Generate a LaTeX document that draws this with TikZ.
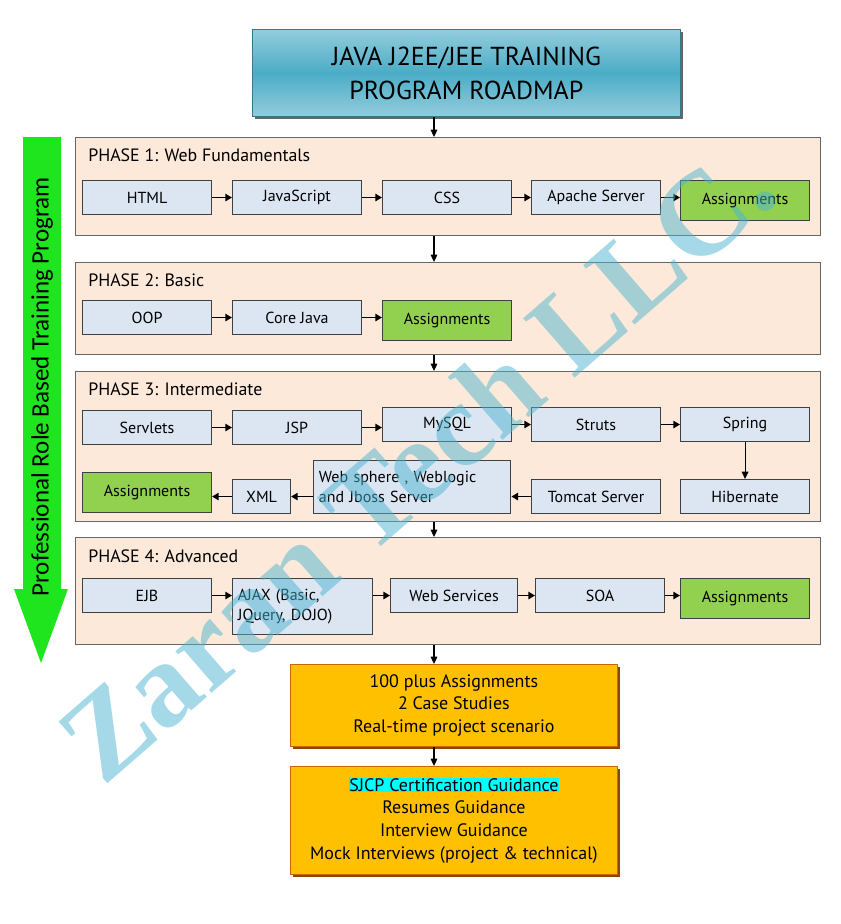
\documentclass[tikz,border=0pt]{standalone}
\usepackage{fontspec}
\setmainfont{PT Sans}
\newfontfamily\sidefont{Carlito}
\newfontfamily\markfont{Liberation Serif}
\usetikzlibrary{arrows.meta,shadows}
\definecolor{itemblue}{HTML}{DCE6F2}
\definecolor{phasefill}{HTML}{FDE9D9}
\definecolor{asggreen}{HTML}{92D050}
\definecolor{tealdark}{HTML}{4BACC6}
\definecolor{teallight}{HTML}{93CDDD}
\definecolor{goldbox}{HTML}{FFC000}
\definecolor{sidegreen}{HTML}{1FE51F}
\definecolor{hlcyan}{HTML}{00FFFF}
\definecolor{markblue}{HTML}{4BB4D0}
\begin{document}
\begin{tikzpicture}[x=0.75pt,y=-0.75pt,line join=miter,
  item/.style={draw=black!75,line width=0.8pt,fill=itemblue,anchor=north west,
    minimum width=96.75pt,minimum height=25.5pt,inner sep=1pt,
    font=\fontsize{12}{15}\selectfont},
  asg/.style={item,fill=asggreen,minimum height=30pt},
  phase/.style={draw=black!60,line width=0.8pt,fill=phasefill,anchor=north west,
    minimum width=558.75pt,inner sep=0pt},
  head/.style={anchor=west,inner sep=0pt,font=\fontsize{13.4}{15}\selectfont},
  gold/.style={draw=orange!80!black,line width=0.6pt,fill=goldbox,anchor=north west,
    minimum width=245.25pt,align=center,inner sep=1pt,
    font=\fontsize{13.5}{17}\selectfont,
    drop shadow={shadow xshift=1.6pt,shadow yshift=-1.6pt,fill=orange!55!black,opacity=1}},
  stepline/.style={line width=1.3pt,-{Triangle[length=5pt,width=5.5pt]}},
  flowline/.style={line width=0.8pt,-{Triangle[length=5.5pt,width=5pt]}}]
\useasboundingbox (0,0) rectangle (840,924);

\fill[sidegreen] (23,137) -- (61,137) -- (61,589) -- (68,589) -- (41,663)
  -- (14,589) -- (23,589) -- cycle;
\node[rotate=90,inner sep=0pt,font=\sidefont\fontsize{18.8}{20}\selectfont] (side) at (42,387)
  {Professional Role Based Training Program};

\node[draw=tealdark!70!black,line width=0.6pt,anchor=north west,top color=teallight,
  bottom color=teallight,middle color=tealdark,minimum width=321pt,minimum height=65.25pt,
  align=center,font=\fontsize{19.5}{25.5}\selectfont,
  drop shadow={shadow xshift=2pt,shadow yshift=-2pt,fill=black!60,opacity=1}]
  (title) at (252,29) {JAVA J2EE/JEE TRAINING\\PROGRAM ROADMAP};

\node[phase,minimum height=73.5pt] (ph1) at (75,137) {};
\node[phase,minimum height=69pt] (ph2) at (75,262) {};
\node[phase,minimum height=112.5pt] (ph3) at (75,371) {};
\node[phase,minimum height=80.25pt] (ph4) at (75,537) {};
\node[head] (h1) at (88,155) {PHASE 1: Web Fundamentals};
\node[head] (h2) at (88,280) {PHASE 2: Basic};
\node[head] (h3) at (88,389) {PHASE 3: Intermediate};
\node[head] (h4) at (88,556) {PHASE 4: Advanced};

\node[item] (html) at (82,180) {HTML};
\node[item] (js) at (232,180) {JavaScript};
\node[item] (css) at (382,180) {CSS};
\node[item] (apache) at (531,180) {Apache Server};
\node[asg] (asg1) at (680,180) {Assignments};

\node[item] (oop) at (82,300) {OOP};
\node[item] (corejava) at (232,300) {Core Java};
\node[asg] (asg2) at (382,300) {Assignments};

\node[item] (servlets) at (82,410) {Servlets};
\node[item] (jsp) at (232,410) {JSP};
\node[item] (mysql) at (382,407) {MySQL};
\node[item] (struts) at (531,407) {Struts};
\node[item] (spring) at (680,407) {Spring};
\node[asg] (asg3) at (82,472) {Assignments};
\node[item,minimum width=43.5pt] (xml) at (232,479) {XML};
\node[item,minimum height=39.75pt,text width=140pt,align=left,inner xsep=4pt]
  (websphere) at (313,460) {Web sphere , Weblogic\\and Jboss Server};
\node[item] (tomcat) at (531,479) {Tomcat Server};
\node[item] (hibernate) at (680,479) {Hibernate};

\node[item] (ejb) at (82,578) {EJB};
\node[item,minimum height=42pt,text width=97pt,align=left,inner xsep=4pt]
  (ajax) at (232,578) {AJAX (Basic,\\JQuery, DOJO)};
\node[item,minimum width=95.25pt] (websvc) at (390,578) {Web Services};
\node[item] (soa) at (535,578) {SOA};
\node[asg] (asg4) at (680,578) {Assignments};

\node[gold,minimum height=61.5pt] (extras) at (290,664)
  {100 plus Assignments\\2 Case Studies\\Real-time project scenario};
\node[gold,minimum height=81pt] (career) at (290,766)
  {{\setlength{\fboxsep}{0.4pt}\colorbox{hlcyan}{SJCP Certification Guidance}}\\
   Resumes Guidance\\Interview Guidance\\Mock Interviews (project \& technical)};

\coordinate (mid) at (434,0);
\draw[flowline] (title.south -| mid) -- (ph1.north -| mid);
\draw[flowline] (ph1.south -| mid) -- (ph2.north -| mid);
\draw[flowline] (ph2.south -| mid) -- (ph3.north -| mid);
\draw[flowline] (ph3.south -| mid) -- (ph4.north -| mid);
\draw[flowline] (ph4.south -| mid) -- (extras.north -| mid);
\draw[flowline] (extras.south -| mid) -- (career.north -| mid);

\draw[stepline] (html.east) -- (js.west);
\draw[stepline] (js.east) -- (css.west);
\draw[stepline] (css.east) -- (apache.west);
\draw[stepline] (apache.east) -- (apache.east -| asg1.west);
\draw[stepline] (oop.east) -- (corejava.west);
\draw[stepline] (corejava.east) -- (corejava.east -| asg2.west);
\draw[stepline] (servlets.east) -- (jsp.west);
\draw[stepline] (jsp.east) -- (jsp.east -| mysql.west);
\draw[stepline] (mysql.east) -- (struts.west);
\draw[stepline] (struts.east) -- (spring.west);
\draw[flowline] (spring.south) -- (hibernate.north);
\draw[stepline] (tomcat.west) -- (tomcat.west -| websphere.east);
\draw[stepline] (xml.east -| websphere.west) -- (xml.east);
\draw[stepline] (xml.west) -- (xml.west -| asg3.east);
\draw[stepline] (ejb.east) -- (ejb.east -| ajax.west);
\draw[stepline] (websvc.west -| ajax.east) -- (websvc.west);
\draw[stepline] (websvc.east) -- (soa.west);
\draw[stepline] (soa.east) -- (soa.east -| asg4.west);

\node[rotate=41,text=markblue,opacity=0.5,inner sep=0pt,
  font=\markfont\bfseries\fontsize{90}{90}\selectfont] (mark) at (416,462) {Zaran Tech LLC.};
\end{tikzpicture}
\end{document}
